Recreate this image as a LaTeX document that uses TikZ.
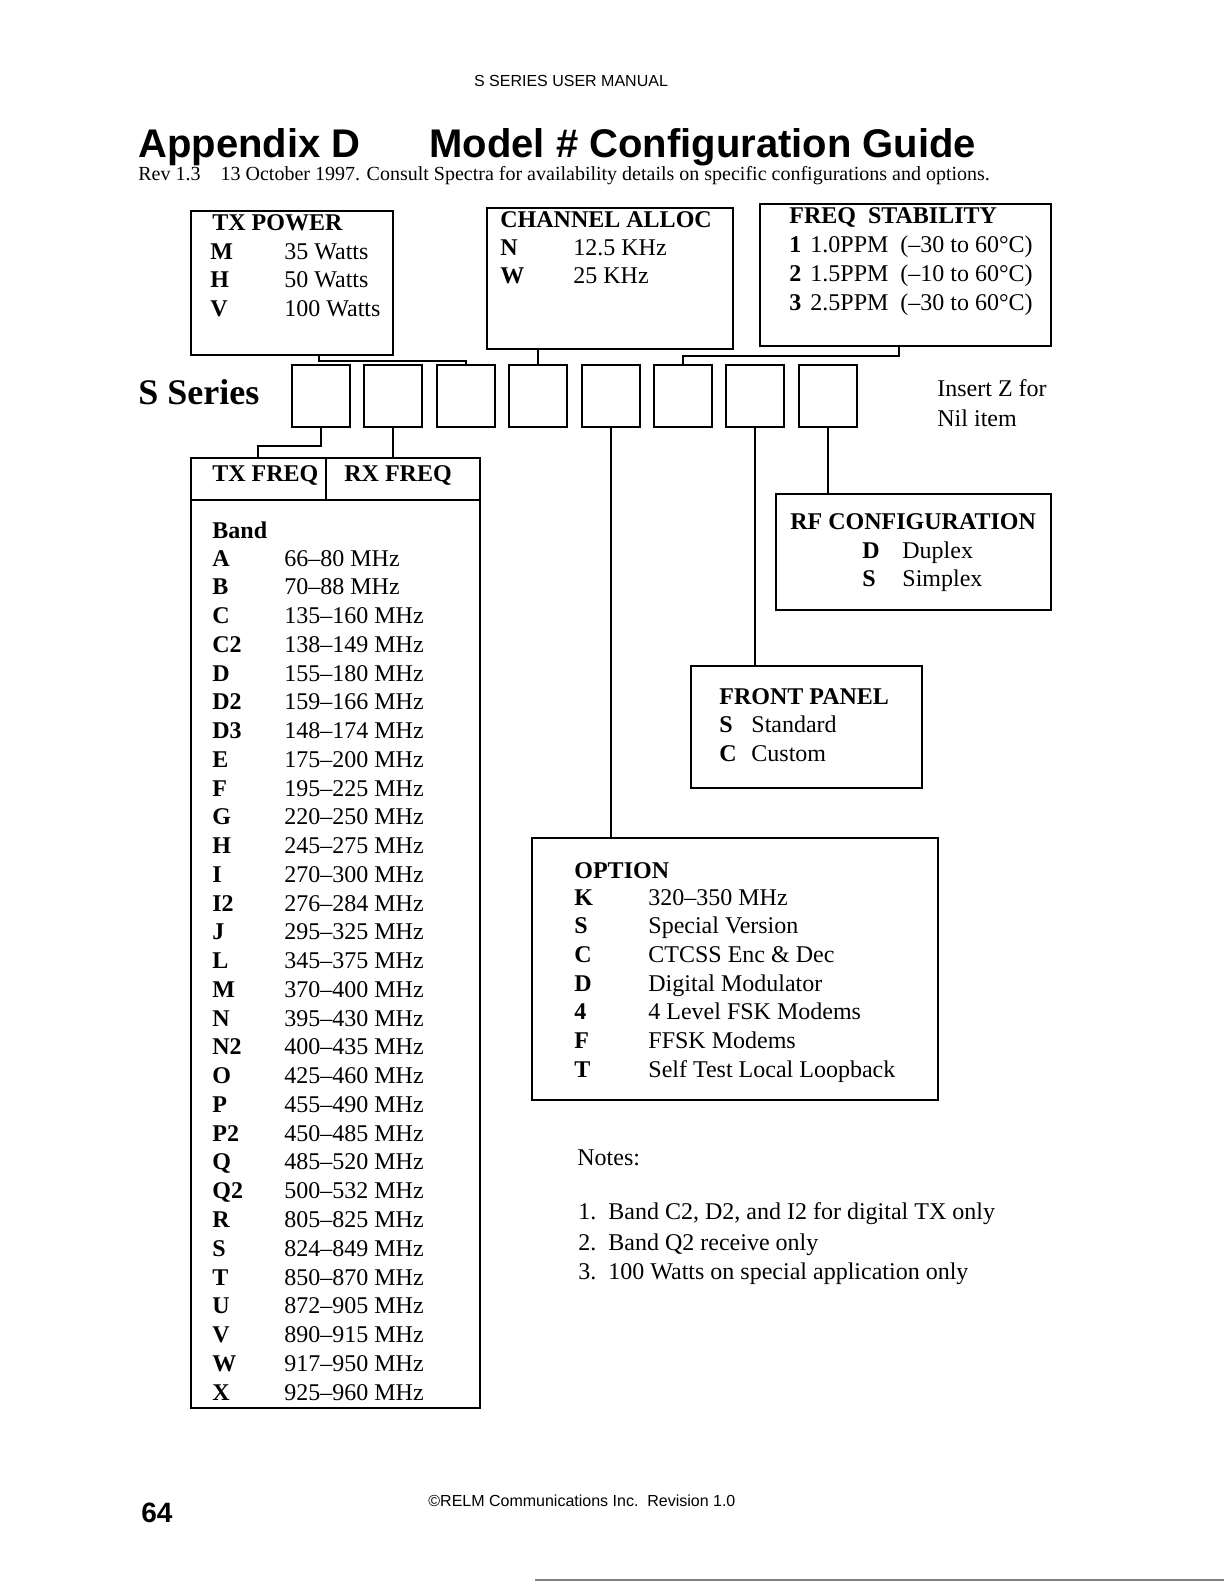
\documentclass[tikz,border=0pt]{standalone}
\usepackage{fontspec}
\setmainfont{Liberation Serif}
\setsansfont{Liberation Sans}
\usetikzlibrary{calc}
\begin{document}
\begin{tikzpicture}[x=0.5pt,y=-0.5pt,
  box/.style={draw,line width=1pt,inner sep=0pt,anchor=north west},
  txt/.style={inner sep=0pt,anchor=base west,font=\fontsize{12}{14}\selectfont},
  btxt/.style={inner sep=0pt,anchor=base west,font=\fontsize{12}{14}\selectfont\bfseries},
  conn/.style={line width=1pt}]
\fill[white] (0,0) rectangle (1224,1584);
\useasboundingbox (0,0) rectangle (1224,1584);

% header
\node[anchor=base,inner sep=0pt,font=\sffamily\fontsize{8}{10}\selectfont] (hdr) at (571,87) {S SERIES USER MANUAL};
\node[anchor=base west,inner sep=0pt,font=\sffamily\bfseries\fontsize{20}{24}\selectfont] (t1) at (138,157) {Appendix D};
\node[anchor=base west,inner sep=0pt,font=\sffamily\bfseries\fontsize{20}{24}\selectfont] (t2) at (429,157) {Model \# Configuration Guide};
\node[txt,font=\fontsize{10}{12}\selectfont] (rev) at (138,180) {Rev 1.3\quad 13 October 1997. Consult Spectra for availability details on specific configurations and options.};

% top boxes
\node[box,minimum width=101pt,minimum height=72pt] (txp) at (190,210) {};
\node[btxt] (txpT) at (212,230) {TX POWER};
\node[btxt] (txpM) at (210,259) {M};  \node[txt] (txpMv) at (284,259) {35 Watts};
\node[btxt] (txpH) at (210,287) {H};  \node[txt] (txpHv) at (284,287) {50 Watts};
\node[btxt] (txpV) at (210,316) {V};  \node[txt] (txpVv) at (284,316) {100 Watts};

\node[box,minimum width=123pt,minimum height=70.5pt] (chan) at (486,207) {};
\node[btxt] (chanT) at (500,227) {CHANNEL ALLOC};
\node[btxt] (chanN) at (500,255) {N};  \node[txt] (chanNv) at (573,255) {12.5 KHz};
\node[btxt] (chanW) at (500,283) {W};  \node[txt] (chanWv) at (573,283) {25 KHz};

\node[box,minimum width=145.5pt,minimum height=71pt] (fst) at (759,203) {};
\node[btxt] (fstT) at (789,223) {FREQ\ \ STABILITY};
\node[btxt] (fst1) at (789,252) {1};  \node[txt] (fst1v) at (810,252) {1.0PPM\ \ (\textendash30 to 60°C)};
\node[btxt] (fst2) at (789,281) {2};  \node[txt] (fst2v) at (810,281) {1.5PPM\ \ (\textendash10 to 60°C)};
\node[btxt] (fst3) at (789,310) {3};  \node[txt] (fst3v) at (810,310) {2.5PPM\ \ (\textendash30 to 60°C)};

% S series boxes
\node[anchor=base west,inner sep=0pt,font=\fontsize{18}{20}\selectfont\bfseries] (sser) at (138,404) {S Series};
\foreach \i in {1,...,8}
  \node[box,minimum width=29pt,minimum height=31pt] (s\i) at ({291+72.4*(\i-1)},364) {};
\node[txt] (ins1) at (937,396) {Insert Z for};
\node[txt] (ins2) at (937,426) {Nil item};

% connectors top
\coordinate (cTxp) at ($(txp.south west)+(129,0)$);
\draw[conn] (cTxp) -- ++(0,5) -| (s3.north);
\draw[conn] (chan.south -| s4.north) -- (s4.north);
\coordinate (cFst) at ($(fst.south west)+(140,0)$);
\draw[conn] (cFst) -- ++(0,9) -| (s6.north);

% TX/RX freq box
\node[box,minimum width=144.5pt,minimum height=475pt] (txrx) at (190,457) {};
\coordinate (hdl) at ($(txrx.north west)+(0,43)$);
\coordinate (hdr2) at ($(txrx.north east)+(0,43)$);
\draw[conn] (hdl) -- (hdr2);
\coordinate (vdt) at ($(txrx.north west)+(136,0)$);
\draw[conn] (vdt) -- ++(0,43);
\node[btxt] (txf) at (212,481) {TX FREQ};
\node[btxt] (rxf) at (344,481) {RX FREQ};
\node[btxt] (band) at (212,538) {Band};
\foreach \k/\v [count=\i from 0] in {A/66--80,B/70--88,C/135--160,C2/138--149,D/155--180,D2/159--166,D3/148--174,E/175--200,F/195--225,G/220--250,H/245--275,I/270--300,I2/276--284,J/295--325,L/345--375,M/370--400,N/395--430,N2/400--435,O/425--460,P/455--490,P2/450--485,Q/485--520,Q2/500--532,R/805--825,S/824--849,T/850--870,U/872--905,V/890--915,W/917--950,X/925--960}{
  \node[btxt] (bk\i) at (212,{566+28.76*\i}) {\k};
  \node[txt] (bv\i) at (284,{566+28.76*\i}) {\v\ MHz};
}
\coordinate (cTx) at ($(txrx.north west)+(68,0)$);
\draw[conn] (s1.south) -- ++(0,18) -| (cTx);
\draw[conn] (s2.south) -- (s2.south |- txrx.north);

% RF configuration
\node[box,minimum width=137.5pt,minimum height=58pt] (rf) at (775,493) {};
\node[btxt] (rfT) at (790,529) {RF CONFIGURATION};
\node[btxt] (rfD) at (862,558) {D};  \node[txt] (rfDv) at (902,558) {Duplex};
\node[btxt] (rfS) at (862,586) {S};  \node[txt] (rfSv) at (902,586) {Simplex};
\draw[conn] (s8.south) -- (s8.south |- rf.north);

% Front panel
\node[box,minimum width=115.5pt,minimum height=61pt] (fp) at (690,665) {};
\node[btxt] (fpT) at (719,704) {FRONT PANEL};
\node[btxt] (fpS) at (719,732) {S};  \node[txt] (fpSv) at (751,732) {Standard};
\node[btxt] (fpC) at (719,761) {C};  \node[txt] (fpCv) at (751,761) {Custom};
\draw[conn] (s7.south) -- (s7.south |- fp.north);

% Option
\node[box,minimum width=203pt,minimum height=131pt] (opt) at (531,837) {};
\node[btxt] (optT) at (574,878) {OPTION};
\foreach \k/\v [count=\i from 0] in {K/320--350 MHz,S/Special Version,C/CTCSS Enc \& Dec,D/Digital Modulator,4/4 Level FSK Modems,F/FFSK Modems,T/Self Test Local Loopback}{
  \node[btxt] (ok\i) at (574,{905+28.7*\i}) {\k};
  \node[txt] (ov\i) at (648,{905+28.7*\i}) {\v};
}
\draw[conn] (s5.south) -- (s5.south |- opt.north);

% Notes
\node[txt] (notes) at (577,1165) {Notes:};
\node[txt] (n1) at (578,1219) {1.};  \node[txt] (n1t) at (608,1219) {Band C2, D2, and I2 for digital TX only};
\node[txt] (n2) at (578,1250) {2.};  \node[txt] (n2t) at (608,1250) {Band Q2 receive only};
\node[txt] (n3) at (578,1279) {3.};  \node[txt] (n3t) at (608,1279) {100 Watts on special application only};

% footer
\node[anchor=base west,inner sep=0pt,font=\sffamily\bfseries\fontsize{14}{16}\selectfont] (pg) at (141,1522) {64};
\node[anchor=base west,inner sep=0pt,font=\sffamily\fontsize{8}{10}\selectfont] (cpy) at (428,1506) {©RELM Communications Inc.\ \ Revision 1.0};
\draw[gray,line width=0.6pt] (535,1580) -- (1224,1580);
\end{tikzpicture}
\end{document}
